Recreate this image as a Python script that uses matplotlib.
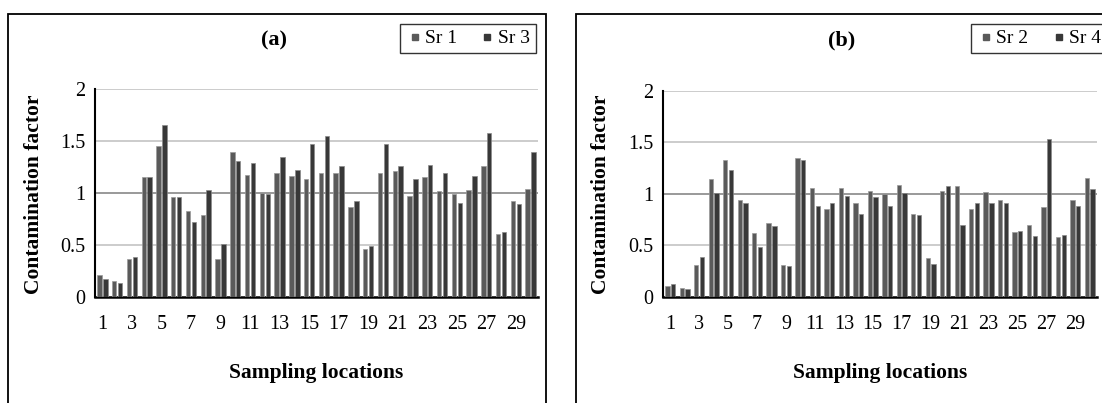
import matplotlib
matplotlib.use('Agg')
import matplotlib.pyplot as plt
import numpy as np
from matplotlib.lines import Line2D
from matplotlib.patches import Rectangle

plt.rcParams['font.family'] = ['Liberation Serif', 'DejaVu Serif']

locations = np.arange(1, 31)
tick_labels = [str(i) for i in range(1, 31, 2)]

# panel (a)
sr1 = [0.21, 0.15, 0.36, 1.15, 1.45, 0.96, 0.83, 0.79, 0.36, 1.39,
       1.17, 1.00, 1.19, 1.16, 1.13, 1.19, 1.19, 0.86, 0.46, 1.19,
       1.21, 0.97, 1.15, 1.02, 0.99, 1.03, 1.26, 0.60, 0.92, 1.04]
sr3 = [0.17, 0.13, 0.38, 1.15, 1.65, 0.96, 0.72, 1.03, 0.51, 1.31,
       1.29, 0.99, 1.35, 1.22, 1.47, 1.55, 1.26, 0.92, 0.49, 1.47,
       1.26, 1.13, 1.27, 1.19, 0.90, 1.16, 1.58, 0.62, 0.89, 1.39]

# panel (b)
sr2 = [0.10, 0.08, 0.31, 1.14, 1.33, 0.94, 0.62, 0.72, 0.31, 1.35,
       1.06, 0.85, 1.06, 0.91, 1.03, 1.00, 1.08, 0.80, 0.38, 1.03,
       1.07, 0.85, 1.02, 0.94, 0.63, 0.70, 0.87, 0.58, 0.94, 1.15]
sr4 = [0.12, 0.07, 0.39, 1.01, 1.23, 0.91, 0.48, 0.69, 0.30, 1.33,
       0.88, 0.91, 0.98, 0.80, 0.97, 0.88, 1.01, 0.79, 0.32, 1.07,
       0.70, 0.91, 0.91, 0.91, 0.64, 0.59, 1.53, 0.60, 0.88, 1.05]

W, H = 1102, 403
fig = plt.figure(figsize=(W / 100, H / 100), dpi=100)

c_light = '#5a5a5a'
c_dark = '#383838'


def panel(rect, a, b, names, title, title_x, leg_anchor, leg_loc, ylab_x):
    ax = fig.add_axes(rect)
    w = 0.3
    ax.bar(locations - 0.2, a, w, color=c_light, edgecolor='#9a9a9a', linewidth=0.5, zorder=3)
    ax.bar(locations + 0.2, b, w, color=c_dark, edgecolor='#8a8a8a', linewidth=0.5, zorder=3)
    ax.set_xlim(0.5, 30.5)
    ax.set_ylim(0, 2)
    ax.set_yticks([0, 0.5, 1, 1.5, 2])
    ax.set_yticklabels(['0', '0.5', '1', '1.5', '2'])
    ax.set_xticks(np.arange(1, 31, 2))
    ax.set_xticklabels(tick_labels)
    ax.tick_params(length=0, labelsize=14.5, pad=13)
    ax.tick_params(axis='y', pad=7)
    for y in [0.5, 1, 1.5, 2]:
        ax.axhline(y, color='#888888' if y == 1 else '#c4c4c4', lw=1.2, zorder=1)
    for s in ['top', 'right']:
        ax.spines[s].set_visible(False)
    ax.spines['left'].set_linewidth(1.5)
    ax.spines['bottom'].set_linewidth(1.8)
    ax.set_xlabel('Sampling locations', fontsize=15.5, fontweight='bold', labelpad=21)
    fig.text(ylab_x / W, 1 - 194 / H, 'Contamination factor', rotation=90,
             fontsize=15.5, fontweight='bold', ha='center', va='center')
    fig.text(title_x / W, 1 - 40 / H, title, fontsize=16, fontweight='bold',
             ha='center', va='center')
    handles = [Line2D([], [], marker='s', ls='', color=c_light, markersize=5),
               Line2D([], [], marker='s', ls='', color=c_dark, markersize=5)]
    fig.legend(handles, names, ncol=2, loc=leg_loc, bbox_to_anchor=leg_anchor,
               fontsize=14, frameon=True, fancybox=False, edgecolor='black',
               borderaxespad=0, handletextpad=0.1, columnspacing=1.1,
               handlelength=0.9, borderpad=0.3).get_frame().set_linewidth(1.0)
    return ax


panel([95 / W, 106.3 / H, 443 / W, 207.7 / H], sr1, sr3, ['Sr 1', 'Sr 3'], '(a)', 274,
      (536 / W, 1 - 24 / H), 'upper right', 34)
panel([663 / W, 106.3 / H, 434 / W, 206 / H], sr2, sr4, ['Sr 2', 'Sr 4'], '(b)', 842,
      (971 / W, 1 - 24 / H), 'upper left', 601)

# panel frames
fig.patches.append(Rectangle((8 / W, -0.05), 538 / W, (H - 14) / H + 0.05, transform=fig.transFigure,
                             fill=False, edgecolor='black', lw=1.3))
fig.patches.append(Rectangle((576 / W, -0.05), 600 / W, (H - 14) / H + 0.05, transform=fig.transFigure,
                             fill=False, edgecolor='black', lw=1.3))

plt.savefig('out.png', dpi=100)
